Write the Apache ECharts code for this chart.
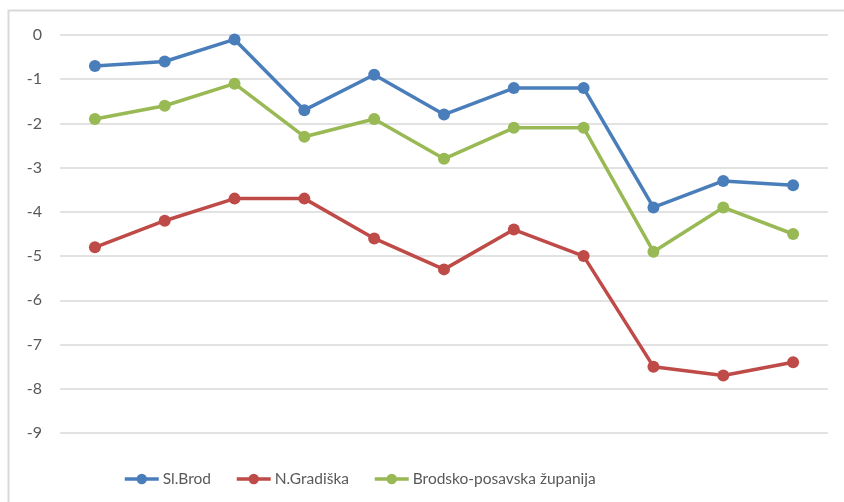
<!DOCTYPE html>
<html>
<head>
<meta charset="utf-8">
<script src="https://cdn.jsdelivr.net/npm/echarts@6/dist/echarts.min.js"></script>
<style>
  html, body { margin: 0; padding: 0; background: #fff; }
  #chart { width: 844px; height: 502px; }
</style>
</head>
<body>
<div id="chart"></div>
<script>
// podaci
var categories = ['1', '2', '3', '4', '5', '6', '7', '8', '9', '10', '11'];
var slBrod = [-0.7, -0.6, -0.1, -1.7, -0.9, -1.8, -1.2, -1.2, -3.9, -3.3, -3.4];
var nGradiska = [-4.8, -4.2, -3.7, -3.7, -4.6, -5.3, -4.4, -5.0, -7.5, -7.7, -7.4];
var zupanija = [-1.9, -1.6, -1.1, -2.3, -1.9, -2.8, -2.1, -2.1, -4.9, -3.9, -4.5];
var seriesNames = ['Sl.Brod', 'N.Gradiška', 'Brodsko-posavska županija'];

var chart = echarts.init(document.getElementById('chart'));

function lineSeries(name, data, color) {
    return {
        name: name,
        type: 'line',
        data: data,
        symbol: 'circle',
        symbolSize: 12,
        lineStyle: { color: color, width: 3.5 },
        itemStyle: { color: color },
        animation: false
    };
}

var option = {
    textStyle: { fontFamily: 'Lato' },
    // okvir grafikona
    graphic: [{
        type: 'rect',
        shape: { x: 8.5, y: 10.5, width: 900, height: 600 },
        style: { fill: 'none', stroke: '#d9d9d9', lineWidth: 2 },
        silent: true
    }],
    legend: {
        left: 118,
        top: 466,
        itemWidth: 34,
        itemHeight: 13,
        itemGap: 24,
        lineStyle: { width: 3.5 },
        textStyle: { color: '#595959', fontSize: 15.5, fontFamily: 'Lato', padding: [0, 0, 0, -1] },
        data: seriesNames
    },
    grid: {
        left: 60,
        right: 16,
        top: 35,
        bottom: 69,
        containLabel: false
    },
    xAxis: {
        type: 'category',
        data: categories,
        boundaryGap: true,
        axisLine: { show: false },
        axisTick: { show: false },
        axisLabel: { show: false },
        splitLine: { show: false }
    },
    yAxis: {
        type: 'value',
        min: -9,
        max: 0,
        interval: 1,
        axisLine: { show: false },
        axisTick: { show: false },
        axisLabel: { color: '#595959', fontSize: 16, fontFamily: 'Lato', margin: 18 },
        splitLine: { lineStyle: { color: '#d9d9d9', width: 1.5 } }
    },
    series: [
        lineSeries(seriesNames[0], slBrod, '#4a7ebb'),
        lineSeries(seriesNames[1], nGradiska, '#be4b48'),
        lineSeries(seriesNames[2], zupanija, '#98b954')
    ]
};
chart.setOption(option);
</script>
</body>
</html>
